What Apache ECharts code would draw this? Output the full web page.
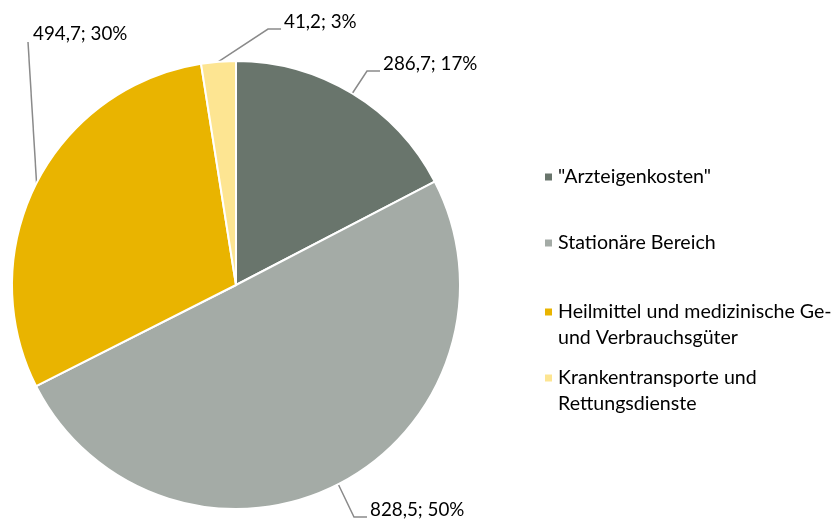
<!DOCTYPE html>
<html>
<head>
<meta charset="utf-8">
<script src="https://cdn.jsdelivr.net/npm/echarts@6/dist/echarts.min.js"></script>
<style>
html,body{margin:0;padding:0;background:#fff;}
#c{width:835px;height:520px;}
</style>
</head>
<body>
<div id="c"></div>
<script>
const categories = ['"Arzteigenkosten"', 'Stationäre Bereich', 'Heilmittel und medizinische Ge-\nund Verbrauchsgüter', 'Krankentransporte und\nRettungsdienste'];
const values = [286.7, 828.5, 494.7, 41.2];
const colors = ['#69756c', '#a4aba6', '#e9b400', '#fde592'];

const FONT = 'Lato, "Open Sans", sans-serif';
const FS_LABEL = 18.8;
const FS_LEGEND = 19.6;

// label text anchor (left x, middle y) per slice
const labelAnchors = [[383, 64], [370, 510], [33, 34], [284, 22]];

const chart = echarts.init(document.getElementById('c'));

function fmt(v) { return v.toFixed(1).replace('.', ','); }

const legendTops = [177, 243, 312, 378]; // icon centre y
const legends = categories.map(function (name, i) {
  const twoLine = name.indexOf('\n') >= 0;
  return {
    orient: 'vertical',
    left: 543,
    top: twoLine ? legendTops[i] - 39 : legendTops[i] - 13,
    padding: 0,
    itemWidth: 9,
    itemHeight: 9,
    itemGap: 0,
    icon: 'rect',
    selectedMode: false,
    data: [name],
    formatter: function (n) { return n.indexOf('\n') >= 0 ? '\n' + n : n; },
    textStyle: {
      fontFamily: FONT,
      fontSize: FS_LEGEND,
      lineHeight: 26,
      color: '#000'
    }
  };
});

chart.setOption({
  animation: false,
  color: colors,
  legend: legends,
  series: [{
    type: 'pie',
    center: [236, 285],
    radius: 224,
    startAngle: 90,
    clockwise: true,
    avoidLabelOverlap: false,
    itemStyle: { borderColor: '#fff', borderWidth: 2 },
    label: {
      show: true,
      position: 'outside',
      fontFamily: FONT,
      fontSize: FS_LABEL,
      color: '#000',
      formatter: function (p) {
        return fmt(p.value) + '; ' + Math.round(p.percent) + '%';
      }
    },
    labelLine: {
      show: true,
      length: 20,
      length2: 10,
      lineStyle: { color: '#8a8a8a', width: 1.5 }
    },
    labelLayout: function (p) {
      const a = labelAnchors[p.dataIndex];
      const start = p.labelLinePoints ? p.labelLinePoints[0] : null;
      let pts;
      if (p.dataIndex === 2) {
        pts = [start, [a[0] - 5, a[1] + 8]];
      } else {
        const end = [a[0] - 3, a[1] + 7];
        pts = [start, [end[0] - 13, end[1]], end];
      }
      const r = { x: a[0], y: a[1], align: 'left', verticalAlign: 'middle' };
      if (start) r.labelLinePoints = pts;
      return r;
    },
    data: categories.map(function (n, i) { return { name: n, value: values[i] }; })
  }]
});
</script>
</body>
</html>
